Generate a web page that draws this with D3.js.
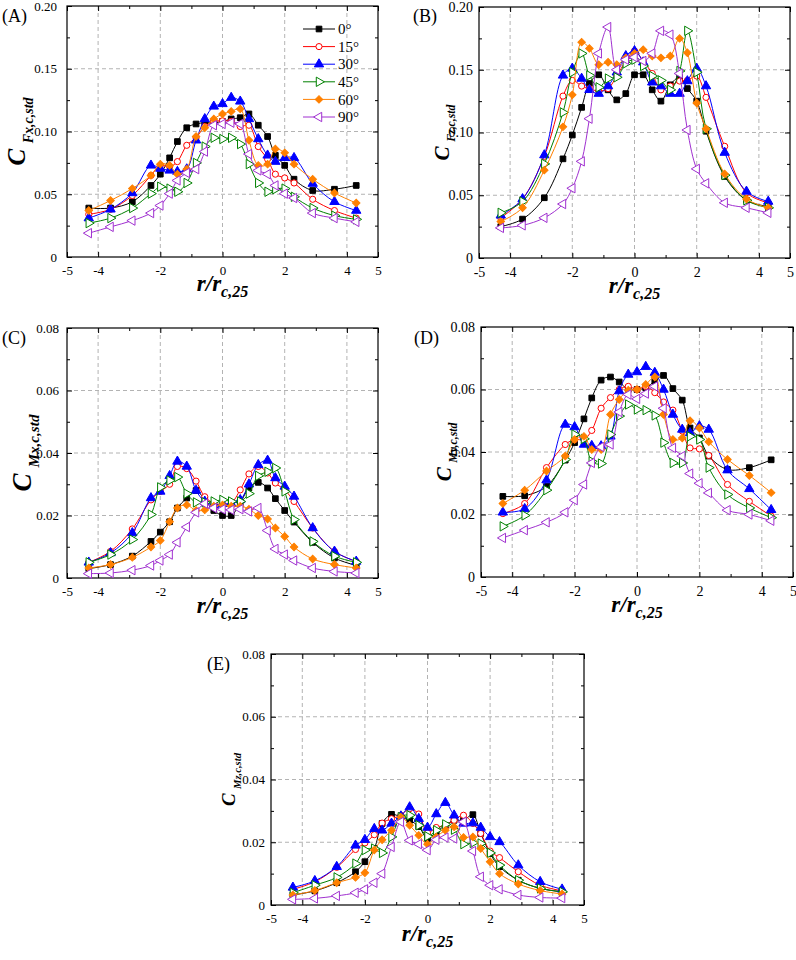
<!DOCTYPE html>
<html>
<head>
<meta charset="UTF-8">
<title>Fluctuating load coefficients</title>
<script src="https://d3js.org/d3.v7.min.js"></script>
<style>
  body { margin: 0; background: white; }
  svg text { font-family: "Liberation Serif", "Times New Roman", serif; }
  .grid line { stroke: #a0a0a0; stroke-dasharray: 4,3; stroke-width: 0.8; }
  .axis line { stroke: black; }
</style>
</head>
<body>
<script>
// radial positions r/r_c,25 (shared by all series)
var rPos = [-4.3, -3.6, -2.9, -2.3, -2.0, -1.7, -1.45, -1.15, -0.85, -0.57, -0.28, 0,
            0.28, 0.57, 0.85, 1.15, 1.45, 1.7, 2.0, 2.3, 2.9, 3.6, 4.3];
var angles = ["0°", "15°", "30°", "45°", "60°", "90°"];
var xTickLabels = [-5, -4, -2, 0, 2, 4, 5];

// (A) C_Fx,c,std, one row per angle
var cFx = [
  [0.039,0.039,0.044,0.057,0.066,0.079,0.092,0.103,0.106,0.107,0.107,0.108,0.110,0.111,0.114,0.105,0.096,0.081,0.073,0.062,0.053,0.054,0.057],
  [0.034,0.038,0.049,0.065,0.073,0.072,0.076,0.089,0.095,0.104,0.108,0.1085,0.108,0.104,0.105,0.088,0.078,0.066,0.063,0.059,0.046,0.037,0.031],
  [0.031,0.038,0.051,0.073,0.0705,0.069,0.068,0.070,0.093,0.110,0.120,0.122,0.127,0.124,0.110,0.094,0.081,0.076,0.079,0.079,0.0585,0.044,0.037],
  [0.027,0.031,0.039,0.0505,0.056,0.0545,0.052,0.059,0.075,0.088,0.095,0.094,0.095,0.090,0.074,0.059,0.052,0.054,0.0545,0.048,0.039,0.033,0.030],
  [0.037,0.045,0.0545,0.065,0.074,0.073,0.066,0.070,0.096,0.103,0.110,0.114,0.116,0.118,0.093,0.073,0.074,0.086,0.083,0.074,0.062,0.051,0.043],
  [0.019,0.024,0.029,0.035,0.041,0.0505,0.061,0.067,0.070,0.084,0.105,0.106,0.107,0.106,0.082,0.069,0.066,0.057,0.0505,0.047,0.035,0.031,0.028]
];
// (B) C_Fz,c,std
var cFz = [
  [0.025,0.031,0.048,0.079,0.098,0.120,0.139,0.146,0.134,0.126,0.131,0.146,0.146,0.134,0.125,0.138,0.144,0.135,0.125,0.101,0.065,0.046,0.041],
  [0.032,0.047,0.081,0.129,0.1415,0.137,0.135,0.133,0.135,0.145,0.157,0.165,0.157,0.147,0.134,0.137,0.141,0.1415,0.145,0.128,0.089,0.052,0.044],
  [0.034,0.047,0.082,0.1455,0.151,0.143,0.134,0.131,0.137,0.148,0.161,0.165,0.156,0.140,0.137,0.131,0.131,0.141,0.151,0.137,0.084,0.053,0.045],
  [0.036,0.045,0.075,0.116,0.148,0.163,0.1455,0.136,0.143,0.144,0.155,0.158,0.153,0.145,0.1415,0.134,0.149,0.181,0.148,0.103,0.066,0.046,0.040],
  [0.029,0.040,0.070,0.1045,0.130,0.172,0.167,0.154,0.156,0.154,0.1595,0.163,0.166,0.161,0.1595,0.161,0.175,0.1635,0.1235,0.103,0.067,0.047,0.040],
  [0.024,0.026,0.032,0.043,0.0556,0.077,0.111,0.163,0.184,0.150,0.158,0.160,0.157,0.163,0.181,0.178,0.147,0.102,0.071,0.0595,0.044,0.040,0.036]
];
// (C) C_Mx,c,std
var cMx = [
  [0.003,0.0043,0.007,0.0117,0.0147,0.018,0.0224,0.0256,0.028,0.025,0.0216,0.020,0.020,0.024,0.0288,0.0306,0.0288,0.0254,0.0216,0.0179,0.0114,0.0064,0.004],
  [0.005,0.0085,0.0157,0.025,0.0277,0.030,0.0357,0.035,0.031,0.026,0.024,0.0235,0.024,0.0282,0.0333,0.0357,0.0336,0.0304,0.0282,0.0245,0.016,0.0085,0.0053],
  [0.005,0.008,0.0144,0.0256,0.0277,0.0327,0.0373,0.0357,0.028,0.0245,0.0234,0.0238,0.0238,0.025,0.030,0.0362,0.0376,0.032,0.0293,0.0261,0.016,0.0085,0.0053],
  [0.005,0.0075,0.0123,0.0203,0.029,0.0312,0.0323,0.027,0.0242,0.0242,0.0245,0.025,0.0245,0.0245,0.027,0.0327,0.034,0.0352,0.0277,0.0187,0.0117,0.007,0.005],
  [0.0032,0.0043,0.0066,0.0099,0.012,0.018,0.0224,0.0234,0.0216,0.0218,0.023,0.0234,0.023,0.023,0.022,0.020,0.0189,0.016,0.0133,0.0099,0.0061,0.0043,0.0032],
  [0.0014,0.0016,0.0025,0.004,0.0056,0.0075,0.0114,0.0163,0.021,0.0238,0.0224,0.022,0.0218,0.022,0.0213,0.0224,0.0152,0.0093,0.0075,0.0056,0.0032,0.0021,0.0016]
];
// (D) C_My,c,std
var cMy = [
  [0.0258,0.026,0.029,0.0374,0.043,0.0506,0.0573,0.063,0.064,0.0624,0.060,0.060,0.0605,0.0627,0.0645,0.0603,0.0566,0.0477,0.0445,0.0387,0.0344,0.035,0.0375],
  [0.0203,0.0235,0.035,0.0424,0.044,0.044,0.0469,0.054,0.0574,0.060,0.061,0.060,0.061,0.059,0.056,0.0534,0.0467,0.0413,0.041,0.0389,0.0296,0.0242,0.0195],
  [0.0207,0.0218,0.031,0.0488,0.048,0.0424,0.042,0.0419,0.045,0.0595,0.0648,0.0656,0.0673,0.0654,0.060,0.052,0.0472,0.0461,0.0483,0.0472,0.0342,0.0282,0.0215],
  [0.0162,0.0197,0.0278,0.0376,0.0456,0.0442,0.037,0.0363,0.0456,0.0515,0.0552,0.0536,0.0534,0.0517,0.043,0.0365,0.0365,0.045,0.044,0.035,0.0264,0.0221,0.019],
  [0.0235,0.0278,0.0339,0.0387,0.044,0.045,0.0408,0.0408,0.052,0.0568,0.0598,0.060,0.0616,0.064,0.052,0.044,0.0445,0.050,0.0477,0.0433,0.0376,0.0325,0.027],
  [0.0125,0.015,0.0175,0.0207,0.0246,0.0296,0.0365,0.0416,0.0424,0.0528,0.0584,0.057,0.0587,0.061,0.054,0.0413,0.0387,0.0331,0.030,0.0269,0.0214,0.020,0.018]
];
// (E) C_Mz,c,std
var cMz = [
  [0.0032,0.0045,0.0071,0.0106,0.0138,0.018,0.026,0.0289,0.028,0.027,0.025,0.0212,0.0233,0.0254,0.027,0.027,0.0288,0.0228,0.0164,0.0122,0.0079,0.0053,0.0042],
  [0.005,0.0074,0.012,0.0177,0.0198,0.0224,0.0261,0.0275,0.0286,0.0307,0.029,0.023,0.0247,0.0254,0.027,0.0286,0.026,0.0228,0.0172,0.0151,0.0106,0.0063,0.0045],
  [0.0056,0.0077,0.0122,0.019,0.0208,0.0243,0.0238,0.026,0.0283,0.0312,0.0275,0.0247,0.029,0.0326,0.0286,0.026,0.0261,0.0247,0.0217,0.0201,0.0127,0.0074,0.005],
  [0.0039,0.0063,0.0088,0.0132,0.0175,0.018,0.0166,0.0217,0.028,0.0286,0.0254,0.0219,0.0238,0.0257,0.024,0.0194,0.0198,0.0196,0.0166,0.0127,0.0079,0.0053,0.0042],
  [0.0032,0.0046,0.0071,0.0088,0.0103,0.0175,0.0208,0.0238,0.028,0.0254,0.0222,0.0194,0.0217,0.0238,0.0249,0.0215,0.0217,0.018,0.0138,0.010,0.0067,0.0046,0.0035],
  [0.0018,0.0021,0.0029,0.0039,0.005,0.0071,0.010,0.0185,0.0265,0.0206,0.0194,0.0175,0.0208,0.0215,0.0212,0.0265,0.0172,0.009,0.0063,0.005,0.0032,0.0024,0.0022]
];

var colors = ["#000000", "#ff0000", "#0000ff", "#008000", "#ff8000", "#a030d0"];
var symbols = [
  { type: d3.symbolSquare, size: 32, rot: 0, open: false },
  { type: d3.symbolCircle, size: 30, rot: 0, open: true },
  { type: d3.symbolTriangle, size: 38, rot: 0, open: false },
  { type: d3.symbolTriangle, size: 38, rot: 90, open: true },
  { type: d3.symbolSquare, size: 28, rot: 45, open: false },
  { type: d3.symbolTriangle, size: 38, rot: -90, open: true }
];

var serif = "'Liberation Serif', 'Times New Roman', serif";
var svg = d3.select("body").append("svg").attr("width", 796).attr("height", 960);

var panels = [
  { tag: "(A)", tagX: 2, tagY: 22, data: cFx, sub: "Fx,c,std", left: 67, top: 6, w: 311, h: 251, ymax: 0.20,
    tickFs: 13, pad: 10, cFs: 25, yTitleX: -42, xTitleDy: 34, legend: true },
  { tag: "(B)", tagX: 413, tagY: 22, data: cFz, sub: "Fz,c,std", left: 479, top: 7, w: 311, h: 251, ymax: 0.20,
    tickFs: 14, pad: 6, cFs: 21, yTitleX: -30, xTitleDy: 35 },
  { tag: "(C)", tagX: 2, tagY: 344, data: cMx, sub: "Mx,c,std", left: 67, top: 328, w: 311, h: 250, ymax: 0.08,
    tickFs: 13, pad: 8, cFs: 27, yTitleX: -36, xTitleDy: 35 },
  { tag: "(D)", tagX: 414, tagY: 344, data: cMy, sub: "My,c,std", left: 481, top: 327, w: 312, h: 250, ymax: 0.08,
    tickFs: 14, pad: 6, cFs: 21, yTitleX: -30, xTitleDy: 35 },
  { tag: "(E)", tagX: 207, tagY: 670, data: cMz, sub: "Mz,c,std", left: 271, top: 654, w: 313, h: 251, ymax: 0.08,
    tickFs: 13, pad: 6, cFs: 19, yTitleX: -36, xTitleDy: 36 }
];

function yFmt(d) { return d === 0 ? "0" : d3.format(".2f")(d); }

function drawPanel(p) {
  var g = svg.append("g").attr("transform", "translate(" + p.left + "," + p.top + ")");
  var x = d3.scaleLinear().domain([-5, 5]).range([0, p.w]);
  var y = d3.scaleLinear().domain([0, p.ymax]).range([p.h, 0]);
  var step = p.ymax / 4;
  var yMajor = d3.range(5).map(function (i) { return i * step; });
  var yMinor = [0.5, 1.5, 2.5, 3.5].map(function (i) { return i * step; });
  var xMinor = [-3, -1, 1, 3];

  // dashed grid
  g.append("g").attr("class", "grid").selectAll("line").data([-4, -2, 0, 2, 4]).enter().append("line")
    .attr("x1", x).attr("x2", x).attr("y1", 0).attr("y2", p.h);
  g.append("g").attr("class", "grid").selectAll("line").data(yMajor.slice(1, 4)).enter().append("line")
    .attr("x1", 0).attr("x2", p.w).attr("y1", y).attr("y2", y);

  // inward ticks on all four sides
  function ax(axis, tr) {
    var a = g.append("g").attr("class", "axis").attr("transform", tr).call(axis);
    a.attr("font-family", null).attr("font-size", null);
    a.select(".domain").remove();
    a.selectAll("text").style("font-size", p.tickFs + "px").style("font-family", serif).attr("fill", "black");
    return a;
  }
  var bt = "translate(0," + p.h + ")", rt = "translate(" + p.w + ",0)";
  ax(d3.axisBottom(x).tickValues(xTickLabels).tickSizeInner(-5).tickSizeOuter(0).tickPadding(9)
    .tickFormat(function (d) { return String(d); }), bt);
  ax(d3.axisBottom(x).tickValues(xMinor).tickSize(-3).tickFormat(""), bt);
  ax(d3.axisTop(x).tickValues(xTickLabels).tickSize(-5).tickFormat(""), "translate(0,0)");
  ax(d3.axisTop(x).tickValues(xMinor).tickSize(-3).tickFormat(""), "translate(0,0)");
  ax(d3.axisLeft(y).tickValues(yMajor).tickSizeInner(-5).tickSizeOuter(0).tickPadding(p.pad).tickFormat(yFmt), "translate(0,0)");
  ax(d3.axisLeft(y).tickValues(yMinor).tickSize(-3).tickFormat(""), "translate(0,0)");
  ax(d3.axisRight(y).tickValues(yMajor).tickSize(-5).tickFormat(""), rt);
  ax(d3.axisRight(y).tickValues(yMinor).tickSize(-3).tickFormat(""), rt);

  g.append("rect").attr("width", p.w).attr("height", p.h)
    .attr("fill", "none").attr("stroke", "black").attr("stroke-width", 1.2);

  // series: line then symbols, in legend order
  var line = d3.line()
    .x(function (d, i) { return x(rPos[i]); })
    .y(function (d) { return y(d); })
    .curve(d3.curveCatmullRom.alpha(0.5));

  p.data.forEach(function (vals, k) {
    var s = symbols[k];
    g.append("path").datum(vals).attr("d", line)
      .attr("fill", "none").attr("stroke", colors[k]).attr("stroke-width", 1);
    g.append("g").selectAll("path").data(vals).enter().append("path")
      .attr("d", d3.symbol().type(s.type).size(s.size))
      .attr("transform", function (d, i) {
        return "translate(" + x(rPos[i]) + "," + y(d) + ") rotate(" + s.rot + ")";
      })
      .attr("fill", s.open ? "white" : colors[k])
      .attr("stroke", colors[k]).attr("stroke-width", 1);
  });

  // axis titles
  var yt = g.append("text")
    .attr("transform", "translate(" + p.yTitleX + "," + (p.h / 2) + ") rotate(-90)")
    .attr("text-anchor", "middle")
    .style("font-weight", "bold").style("font-style", "italic");
  yt.append("tspan").text("C").style("font-size", p.cFs + "px");
  yt.append("tspan").text(p.sub).attr("dx", p.cFs * 0.22).attr("dy", p.cFs * 0.3)
    .style("font-size", (p.cFs * 0.56) + "px");

  var xt = g.append("text").attr("x", p.w / 2).attr("y", p.h + p.xTitleDy)
    .attr("text-anchor", "middle")
    .style("font-weight", "bold").style("font-style", "italic");
  xt.append("tspan").text("r/r").style("font-size", "23px");
  xt.append("tspan").text("c,25").attr("dy", 6).style("font-size", "16px");

  svg.append("text").attr("x", p.tagX).attr("y", p.tagY).text(p.tag).style("font-size", "18px");

  if (p.legend) {
    var lg = g.append("g").attr("transform", "translate(236,23)");
    var rows = lg.selectAll("g").data(angles).enter().append("g")
      .attr("transform", function (d, i) { return "translate(0," + (i * 17.6) + ")"; });
    rows.append("line").attr("x1", 0).attr("x2", 32)
      .attr("stroke", function (d, i) { return colors[i]; }).attr("stroke-width", 1);
    rows.append("path")
      .attr("d", function (d, i) { return d3.symbol().type(symbols[i].type).size(symbols[i].size)(); })
      .attr("transform", function (d, i) { return "translate(16,0) rotate(" + symbols[i].rot + ")"; })
      .attr("fill", function (d, i) { return symbols[i].open ? "white" : colors[i]; })
      .attr("stroke", function (d, i) { return colors[i]; });
    rows.append("text").attr("x", 35).attr("dy", "0.35em").style("font-size", "15px").text(function (d) { return d; });
  }
}

panels.forEach(drawPanel);
</script>
</body>
</html>
